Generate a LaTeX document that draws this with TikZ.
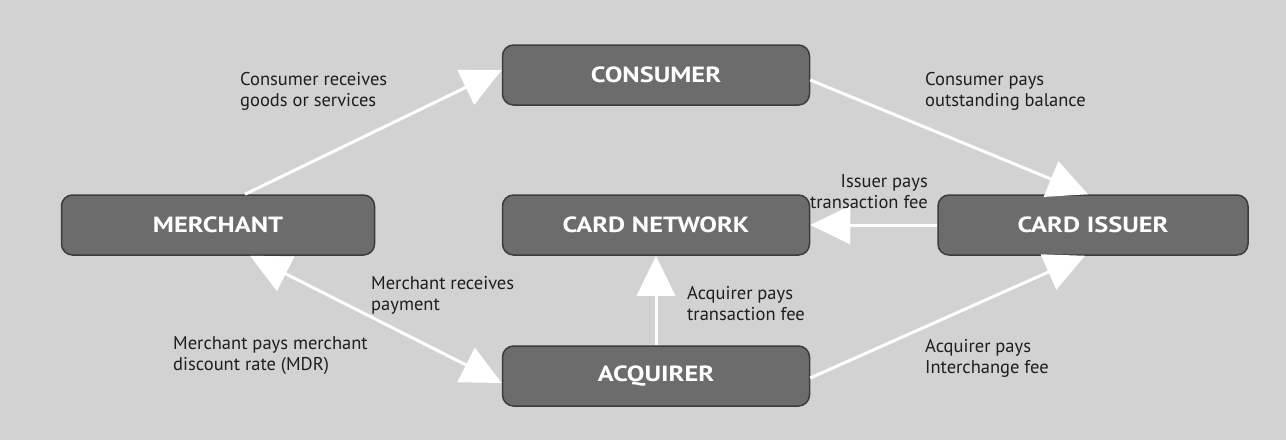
\documentclass[tikz,border=0pt]{standalone}
\usepackage{fontspec}
\setmainfont{PT Sans}
\newfontfamily\boxfont[FakeStretch=1.2]{PT Sans}
\usetikzlibrary{arrows.meta}
\definecolor{bg}{HTML}{D2D2D2}
\definecolor{boxfill}{HTML}{6C6C6C}
\definecolor{boxline}{HTML}{3C3C3C}
\definecolor{txt}{HTML}{1E1E1E}
\tikzset{
  party/.style={rectangle, rounded corners=11pt, fill=boxfill, draw=boxline, line width=1.5pt,
    minimum width=307pt, minimum height=60pt, text=white,
    font=\boxfont\fontsize{22}{24}\selectfont\bfseries},
  lbl/.style={inner sep=0pt, text=txt, font=\fontsize{18.5}{21}\selectfont},
  flow/.style={draw=white, line width=3pt, -{Triangle[length=40pt,width=38pt]}},
  flow2/.style={draw=white, line width=3pt, {Triangle[length=40pt,width=38pt]}-{Triangle[length=40pt,width=38pt]}}
}
\begin{document}
\begin{tikzpicture}[x=1pt,y=-1pt]
\fill[bg] (0,0) rectangle (1286,440);
\useasboundingbox (0,0) rectangle (1286,440);

\node[party] (consumer) at (656,75) {CONSUMER};
\node[party] (network) at (656,225) {CARD NETWORK};
\node[party] (acquirer) at (656,376) {ACQUIRER};
\node[party, minimum width=313pt] (merchant) at (218,225) {MERCHANT};
\node[party, minimum width=310pt] (issuer) at (1093,225) {CARD ISSUER};

\draw[flow] ([xshift=27pt]merchant.north) -- ([yshift=5pt]consumer.west);
\draw[flow] ([yshift=-5pt]consumer.east) -- ([xshift=-5pt]issuer.north);
\draw[flow] (issuer.west) -- (network.east);
\draw[flow] (acquirer.north) -- (network.south);
\draw[flow2] ([xshift=32pt]merchant.south) -- ([yshift=-7pt]acquirer.west);
\draw[flow] ([yshift=-2pt]acquirer.east) -- ([xshift=-8pt]issuer.south);

\node[lbl, anchor=north west, align=left] (l1) at (240,72) {Consumer receives\\goods or services};
\node[lbl, anchor=north west, align=left] (l2) at (925,72) {Consumer pays\\outstanding balance};
\node[lbl, anchor=north east, align=right] (l3) at (928,174) {Issuer pays\\transaction fee};
\node[lbl, anchor=north west, align=left] (l4) at (371,276) {Merchant receives\\payment};
\node[lbl, anchor=north west, align=left] (l5) at (687,286) {Acquirer pays\\transaction fee};
\node[lbl, anchor=north west, align=left] (l6) at (173,336) {Merchant pays merchant\\discount rate (MDR)};
\node[lbl, anchor=north west, align=left] (l7) at (925,339) {Acquirer pays\\Interchange fee};
\end{tikzpicture}
\end{document}
